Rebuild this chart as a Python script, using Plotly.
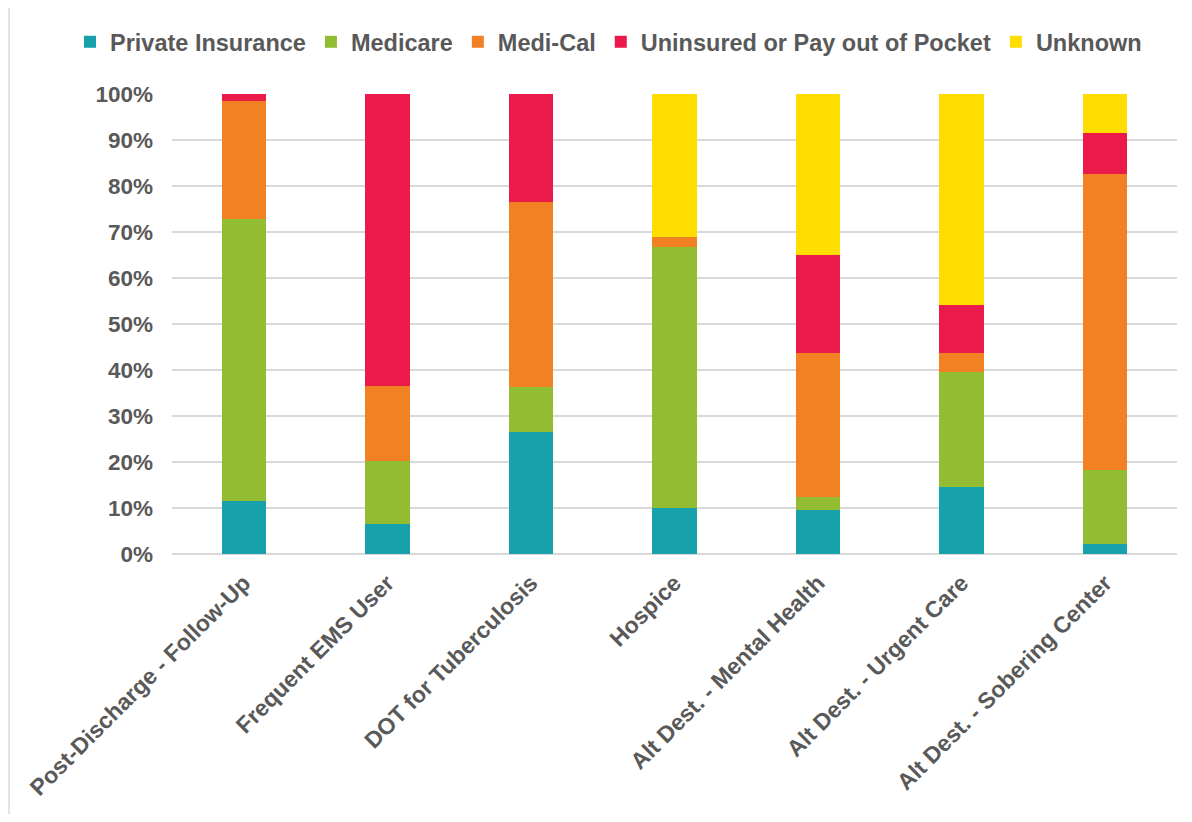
import plotly.graph_objects as go

categories = ["Post-Discharge - Follow-Up", "Frequent EMS User", "DOT for Tuberculosis",
              "Hospice", "Alt Dest. - Mental Health", "Alt Dest. - Urgent Care",
              "Alt Dest. - Sobering Center"]

private_insurance = [11.5, 6.6, 26.5, 10.1, 9.6, 14.5, 2.2]
medicare = [61.3, 13.6, 9.7, 56.6, 2.8, 25.0, 16.1]
medi_cal = [25.7, 16.4, 40.3, 2.3, 31.4, 4.2, 64.4]
uninsured = [1.5, 63.4, 23.5, 0.0, 21.1, 10.4, 8.9]
unknown = [0.0, 0.0, 0.0, 31.0, 35.1, 45.9, 8.4]

series = [
    ("Private Insurance", private_insurance, "#17A2AB"),
    ("Medicare", medicare, "#92BD33"),
    ("Medi-Cal", medi_cal, "#F28123"),
    ("Uninsured or Pay out of Pocket", uninsured, "#EC1A4B"),
    ("Unknown", unknown, "#FFDD00"),
]

font_family = "Arial, Liberation Sans, sans-serif"
txt = "#595959"

W, H = 1176, 806
L, R, T, B = 164, 7, 86, 260
pw, ph = W - L - R, H - T - B

fig = go.Figure()
for name, vals, col in series:
    fig.add_trace(go.Bar(x=categories, y=vals, name=name,
                         marker=dict(color=col, line=dict(width=0))))

fig.update_layout(
    barmode="stack",
    barnorm="percent",
    bargap=0.69,
    width=W, height=H,
    margin=dict(l=L, r=R, t=T, b=B, autoexpand=False),
    paper_bgcolor="white", plot_bgcolor="white",
    font=dict(family=font_family, color=txt),
    legend=dict(orientation="h", x=(70 - 8 - L) / pw, xanchor="left",
                y=1 + (94 - 42) / ph, yanchor="middle", traceorder="normal",
                font=dict(size=23.5, family=font_family, color=txt, weight="bold"),
                itemwidth=30, tracegroupgap=0),
    xaxis=dict(tickangle=-45, showgrid=False, showline=False, ticks="",
               ticklabelstandoff=10,
               tickfont=dict(size=23, family=font_family, color=txt, weight="bold")),
    yaxis=dict(range=[0, 100], dtick=10, ticksuffix="%", showgrid=True,
               gridcolor="#D9D9D9", gridwidth=2, zeroline=True, zerolinecolor="#D9D9D9",
               zerolinewidth=2, showline=False, ticks="", ticklabelstandoff=18,
               tickfont=dict(size=22.5, family=font_family, color=txt, weight="bold")),
    shapes=[dict(type="line", xref="paper", yref="paper",
                 x0=(-L + 1) / pw, x1=(-L + 1) / pw, y0=-B / ph, y1=1 + T / ph,
                 line=dict(color="#D9D9D9", width=1.5))],
)

fig.write_html("out.html")
